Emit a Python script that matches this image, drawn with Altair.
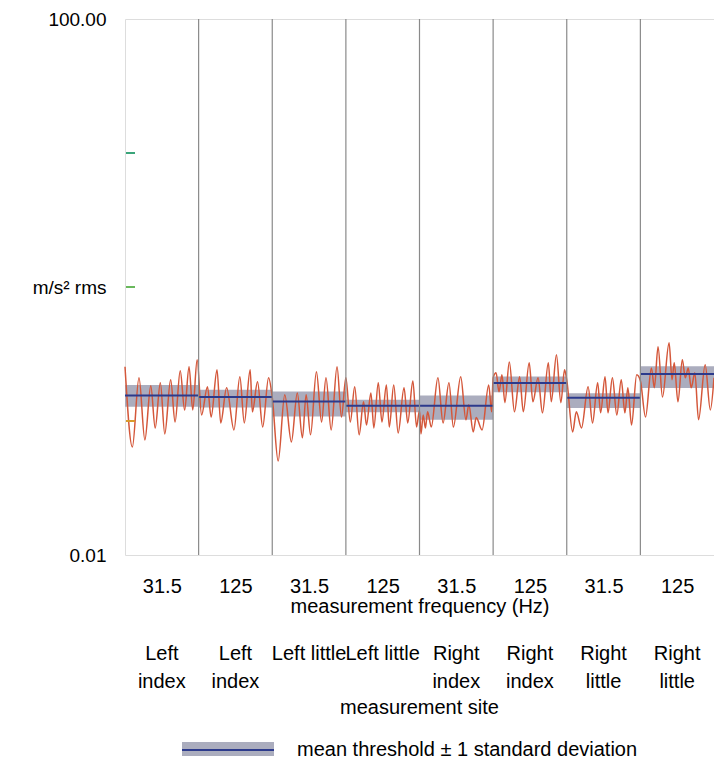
import altair as alt
import pandas as pd

FONT = "Liberation Sans"

# ---------------- data ----------------
FREQ_LABELS = ["31.5", "125", "31.5", "125", "31.5", "125", "31.5", "125"]
SITE_LABELS = ["Left\nindex", "Left\nindex", "Left little", "Left little",
               "Right\nindex", "Right\nindex", "Right\nlittle", "Right\nlittle"]

MEAN_THRESHOLD = [0.155, 0.151, 0.140, 0.130, 0.130, 0.192, 0.149, 0.224]
MINUS_1SD = [0.128, 0.126, 0.108, 0.116, 0.102, 0.164, 0.125, 0.176]
PLUS_1SD = [0.186, 0.171, 0.166, 0.144, 0.155, 0.215, 0.161, 0.256]

# threshold trace: position within panel (0..1) and value (m/s2 rms)
P1_POS = [0.00, 0.10, 0.19, 0.27, 0.35, 0.41, 0.48, 0.54, 0.62, 0.68, 0.75, 0.81, 0.87, 0.92, 0.98]
P1_VAL = [0.254, 0.064, 0.210, 0.0723, 0.183, 0.0888, 0.193, 0.0801, 0.203, 0.0984, 0.237, 0.121, 0.254, 0.121, 0.286]

P2_POS = [0.04, 0.12, 0.17, 0.25, 0.30, 0.38, 0.48, 0.56, 0.62, 0.70, 0.73, 0.80, 0.87, 0.95]
P2_VAL = [0.111, 0.180, 0.107, 0.241, 0.0968, 0.177, 0.0858, 0.214, 0.0968, 0.241, 0.117, 0.196, 0.0903, 0.210]

P3_POS = [0.00, 0.08, 0.17, 0.26, 0.34, 0.41, 0.46, 0.52, 0.60, 0.67, 0.73, 0.80, 0.88, 0.94]
P3_VAL = [0.150, 0.0503, 0.157, 0.0698, 0.162, 0.0749, 0.157, 0.0788, 0.233, 0.0984, 0.210, 0.0858, 0.254, 0.107]

P4_POS = [0.00, 0.06, 0.12, 0.18, 0.24, 0.28, 0.34, 0.38, 0.44, 0.49, 0.55, 0.59, 0.65, 0.71, 0.79, 0.84, 0.91, 0.96]
P4_VAL = [0.210, 0.0984, 0.180, 0.0788, 0.139, 0.0935, 0.162, 0.0888, 0.193, 0.0984, 0.186, 0.0903, 0.186, 0.0815, 0.177, 0.0968, 0.199, 0.0903]

P5_POS = [0.00, 0.02, 0.05, 0.08, 0.11, 0.16, 0.25, 0.32, 0.40, 0.46, 0.56, 0.63, 0.67, 0.73, 0.77, 0.85, 0.94, 0.98]
P5_VAL = [0.120, 0.080, 0.111, 0.0888, 0.117, 0.0903, 0.210, 0.0968, 0.193, 0.0903, 0.214, 0.102, 0.132, 0.0829, 0.106, 0.0858, 0.186, 0.117]

P6_POS = [0.00, 0.04, 0.08, 0.12, 0.16, 0.22, 0.29, 0.36, 0.41, 0.49, 0.54, 0.61, 0.67, 0.75, 0.79, 0.86, 0.92, 0.97]
P6_VAL = [0.210, 0.229, 0.165, 0.221, 0.137, 0.276, 0.117, 0.214, 0.117, 0.272, 0.139, 0.210, 0.115, 0.272, 0.139, 0.312, 0.137, 0.241]

P7_POS = [0.00, 0.08, 0.13, 0.20, 0.29, 0.35, 0.42, 0.46, 0.52, 0.56, 0.62, 0.68, 0.74, 0.79, 0.83, 0.88, 0.95]
P7_VAL = [0.203, 0.0829, 0.117, 0.0888, 0.180, 0.0968, 0.193, 0.115, 0.214, 0.115, 0.210, 0.111, 0.203, 0.115, 0.177, 0.0935, 0.221]

P8_POS = [0.00, 0.07, 0.15, 0.19, 0.24, 0.30, 0.39, 0.43, 0.46, 0.51, 0.57, 0.61, 0.65, 0.69, 0.74, 0.79, 0.88, 0.95, 1.00]
P8_VAL = [0.200, 0.107, 0.249, 0.177, 0.358, 0.151, 0.383, 0.203, 0.272, 0.139, 0.286, 0.210, 0.249, 0.177, 0.229, 0.102, 0.263, 0.121, 0.210]

TRACE_POS = [P1_POS, P2_POS, P3_POS, P4_POS, P5_POS, P6_POS, P7_POS, P8_POS]
TRACE_VAL = [P1_VAL, P2_VAL, P3_VAL, P4_VAL, P5_VAL, P6_VAL, P7_VAL, P8_VAL]

Y_TICKS = [0.01, 1, 100]
Y_TICK_TEXT = ["0.01", "m/s² rms", "100.00"]
MINOR_TICKS = [10, 1, 0.1]
MINOR_TICK_COLORS = ["#3aa57a", "#69b85c", "#d99a2c"]

LEGEND_TEXT = "mean threshold ± 1 standard deviation"

# ---------------- tables ----------------
n = len(FREQ_LABELS)
panels = pd.DataFrame({
    "x0": list(range(n)),
    "x1": list(range(1, n + 1)),
    "xc": [i + 0.5 for i in range(n)],
    "mean": MEAN_THRESHOLD,
    "lo": MINUS_1SD,
    "hi": PLUS_1SD,
    "site": SITE_LABELS,
})

rows = []
for i, (ps, vs) in enumerate(zip(TRACE_POS, TRACE_VAL)):
    for p, v in zip(ps, vs):
        rows.append({"x": i + p, "v": v})
trace = pd.DataFrame(rows)

dividers = pd.DataFrame({"b": list(range(1, n))})
minor = pd.DataFrame({"t": MINOR_TICKS, "c": MINOR_TICK_COLORS})
one = pd.DataFrame({"label": [LEGEND_TEXT]})

W, H = 589, 536
xs = alt.Scale(domain=[0, n], nice=False, zero=False)
ys = alt.Scale(type="log", domain=[0.01, 100], nice=False)

x_label_expr = "[" + ",".join("'%s'" % s for s in FREQ_LABELS) + "][floor(datum.value)]"
y_label_expr = " : ".join(
    "datum.value == %s ? '%s'" % (v, t) for v, t in zip(Y_TICKS[1:], Y_TICK_TEXT[1:])
) + " : '%s'" % Y_TICK_TEXT[0]

x_axis = alt.Axis(
    values=[i + 0.5 for i in range(n)], labelExpr=x_label_expr,
    domain=False, ticks=False, grid=False, labelFlush=False, labelOverlap=False,
    labelFont=FONT, labelFontSize=20, labelColor="#000", labelPadding=21,
    title="measurement frequency (Hz)", titleFont=FONT, titleFontSize=20,
    titleFontWeight="normal", titleColor="#000", titleY=51, titleBaseline="middle",
)
y_axis = alt.Axis(
    values=Y_TICKS, labelExpr=y_label_expr, domain=False, ticks=False, grid=False,
    labelFont=FONT, labelFontSize=19, labelColor="#000", labelPadding=19,
    labelOverlap=False, title=None,
)

band = alt.Chart(panels).mark_rect(color="#a4a6b8", opacity=0.92).encode(
    x=alt.X("x0:Q", scale=xs, axis=x_axis), x2="x1:Q",
    y=alt.Y("lo:Q", scale=ys, axis=y_axis), y2="hi:Q",
)

red = alt.Chart(trace).mark_line(color="#d4573a", strokeWidth=1.5, interpolate="monotone").encode(
    x=alt.X("x:Q", scale=xs, axis=x_axis),
    y=alt.Y("v:Q", scale=ys, axis=y_axis),
)

mean = alt.Chart(panels).mark_rule(color="#2c3a8c", strokeWidth=2).encode(
    x=alt.X("x0:Q", scale=xs, axis=x_axis), x2="x1:Q",
    y=alt.Y("mean:Q", scale=ys, axis=y_axis),
)

divs = alt.Chart(dividers).mark_rule(color="#8a8a8a", strokeWidth=1.2).encode(
    x=alt.X("b:Q", scale=xs, axis=x_axis),
)

ticks = alt.Chart(minor).mark_rule(strokeWidth=2).encode(
    y=alt.Y("t:Q", scale=ys, axis=y_axis),
    x=alt.value(1), x2=alt.value(10),
    color=alt.Color("c:N", scale=None),
)

sites = alt.Chart(panels).mark_text(
    font=FONT, fontSize=20, lineBreak="\n", lineHeight=28, baseline="top",
    align="center", color="#000",
).encode(
    x=alt.X("xc:Q", scale=xs, axis=x_axis), y=alt.value(625), text="site:N",
)

site_title = alt.Chart(one).mark_text(
    font=FONT, fontSize=20, baseline="middle", align="center", color="#000",
).encode(x=alt.value(W / 2), y=alt.value(689), text=alt.value("measurement site"))

leg_rect = alt.Chart(one).mark_rect(color="#a4a6b8", opacity=0.92).encode(
    x=alt.value(57), x2=alt.value(149), y=alt.value(723), y2=alt.value(737),
)
leg_line = alt.Chart(one).mark_rule(color="#2c3a8c", strokeWidth=2).encode(
    x=alt.value(57), x2=alt.value(149), y=alt.value(731),
)
leg_text = alt.Chart(one).mark_text(
    font=FONT, fontSize=20, baseline="middle", align="left", color="#000",
).encode(x=alt.value(172), y=alt.value(731), text="label:N")

chart = alt.layer(
    band, red, mean, divs, ticks, sites, site_title, leg_rect, leg_line, leg_text
).properties(
    width=W, height=H,
    padding={"left": 117, "top": 11, "right": 0, "bottom": 206},
    autosize=alt.AutoSizeParams(type="none"),
).configure_view(
    stroke="#6d6e9e", strokeWidth=1.5,
).configure(background="white")

chart.save("out.html", embed_options={"renderer": "svg", "actions": False})
